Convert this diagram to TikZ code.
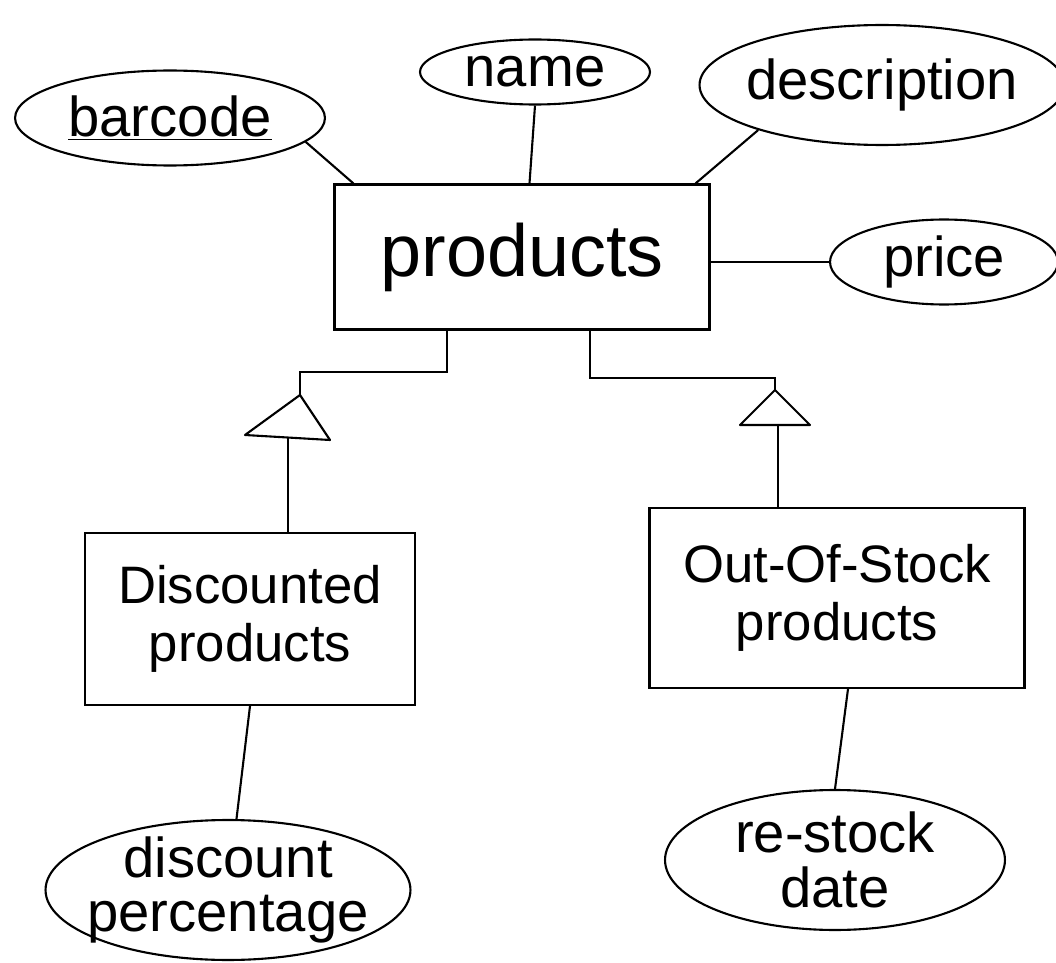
\documentclass[tikz,border=0pt]{standalone}
\usepackage{fontspec}
\setmainfont{Liberation Sans}
\usetikzlibrary{shapes.geometric}
\tikzset{
attr/.style={shape=ellipse, draw, inner xsep=-8pt, inner ysep=-6pt, align=center, font=\fontsize{32}{31}\selectfont},
entity/.style={shape=rectangle, draw, inner sep=0, align=center, font=\fontsize{30}{33}\selectfont},
isa/.style={draw, line join=round}}

\begin{document}
\begin{tikzpicture}[x=0.02cm, y=-0.02cm, line width=1.2pt]
\useasboundingbox (0,0) rectangle (1056,963);
% entities
\node [entity, minimum width=7.5cm, minimum height=2.9cm, font=\fontsize{42}{44}\selectfont] (products) at (522,257) {products};
\node [entity, minimum width=6.6cm, minimum height=3.44cm] (disc) at (250,619) {Discounted\\products};
\node [entity, minimum width=7.5cm, minimum height=3.6cm] (oos) at (837,598) {Out-Of-Stock\\products};
% attributes
\node [attr, minimum width=6.2cm, minimum height=1.9cm] (barcode) at (170,118) {\underline{barcode}};
\node [attr, minimum width=4.6cm, minimum height=1.3cm] (name) at (535,72) {name};
\node [attr, minimum width=7.3cm, minimum height=2.4cm] (description) at (882,85) {description};
\node [attr, minimum width=4.56cm, minimum height=1.7cm] (price) at (944,262) {price};
\node [attr, minimum width=7.3cm, minimum height=2.8cm] (discount) at (228,890) {discount\\percentage};
\node [attr, minimum width=6.8cm, minimum height=2.8cm] (restock) at (835,860) {re-stock\\date};
% isa triangles
\coordinate (isaL) at (300,395);
\coordinate (isaLb) at (288,437);
\coordinate (isaR) at (775,390);
\coordinate (isaRb) at (778,425);
\draw [isa] (isaL) -- (245,435) -- (330,440) -- cycle;
\draw [isa] (isaR) -- (740,425) -- (810,425) -- cycle;
\coordinate (jL) at ([xshift=-1.5cm]products.south);
\coordinate (jR) at ([xshift=1.36cm]products.south);
% connectors
\draw (barcode.-10) -- ([xshift=0.4cm]products.north west);
\draw (name.south) -- ([xshift=0.15cm]products.north);
\draw (description.200) -- ([xshift=-0.3cm]products.north east);
\draw (price.west -| products.east) -- (price.west);
\draw (isaL) -- ++(0,-23) -| (jL);
\draw (isaR) -- ++(0,-12) -| (jR);
\draw (isaLb) -- (isaLb |- disc.north);
\draw (isaRb) -- (isaRb |- oos.north);
\draw (disc.south) -- (discount);
\draw ([xshift=0.22cm]oos.south) -- (restock.north);
\end{tikzpicture}
\end{document}
